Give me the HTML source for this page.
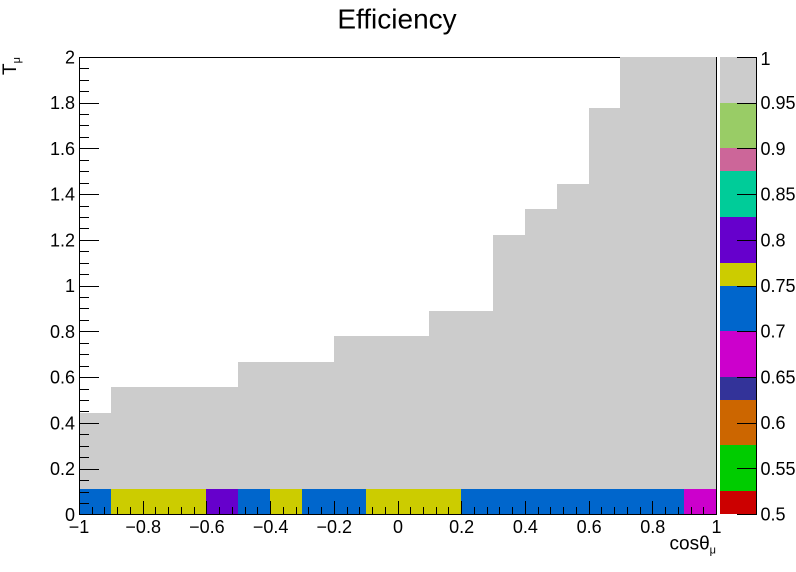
<!DOCTYPE html>
<html lang="en">
<head>
<meta charset="utf-8">
<title>Efficiency</title>
<style>
html,body{margin:0;padding:0;background:#fff;}
svg{display:block;font-family:"Liberation Sans",sans-serif;}
</style>
</head>
<body>
<svg id="chart" width="796" height="572" viewBox="0 0 796 572" xmlns="http://www.w3.org/2000/svg">
<text x="397" y="28.5" font-size="28" text-anchor="middle" fill="#000">Efficiency</text>
<g id="cells" shape-rendering="crispEdges"></g>
<g id="palette" shape-rendering="crispEdges"></g>
<g id="axes"></g>
<text x="716" y="549.5" font-size="19" text-anchor="end" fill="#000">cosθ<tspan font-size="11" dy="4">μ</tspan></text>
<text transform="translate(16,57) rotate(-90)" font-size="19" text-anchor="end" fill="#000">T<tspan font-size="11" dy="4">μ</tspan></text>
</svg>
<script>
// Efficiency in the lowest T-mu bin, one value per cos-theta bin
const bottomRowValues = [0.72, 0.76, 0.76, 0.76, 0.81, 0.72, 0.76, 0.72, 0.72, 0.76, 0.76, 0.76, 0.72, 0.72, 0.72, 0.72, 0.72, 0.72, 0.72, 0.68];
// Number of filled T-mu bins per cos-theta bin
const filledBinCounts = [4, 5, 5, 5, 5, 6, 6, 6, 7, 7, 7, 8, 8, 11, 12, 13, 16, 18, 18, 18];
// Efficiency of all bins above the lowest one
const upperBinValue = 1.0;
const xTickLabels = ['\u22121', '\u22120.8', '\u22120.6', '\u22120.4', '\u22120.2', '0', '0.2', '0.4', '0.6', '0.8', '1'];
const xTickValues = [-1, -0.8, -0.6, -0.4, -0.2, 0, 0.2, 0.4, 0.6, 0.8, 1];
const yTickLabels = ['0', '0.2', '0.4', '0.6', '0.8', '1', '1.2', '1.4', '1.6', '1.8', '2'];
const yTickValues = [0, 0.2, 0.4, 0.6, 0.8, 1, 1.2, 1.4, 1.6, 1.8, 2];
const zTickLabels = ['0.5', '0.55', '0.6', '0.65', '0.7', '0.75', '0.8', '0.85', '0.9', '0.95', '1'];
const zTickValues = [0.5, 0.55, 0.6, 0.65, 0.7, 0.75, 0.8, 0.85, 0.9, 0.95, 1];
// Colour of each of the 20 contour levels, from 0.5 to 1
const levelColors = ['#cc0000', '#00cc00', '#00cc00', '#cc6600', '#cc6600', '#333399', '#cc00cc', '#cc00cc', '#0066cc', '#0066cc', '#cccc00', '#6600cc', '#6600cc', '#00cc99', '#00cc99', '#cc6699', '#99cc66', '#99cc66', '#cccccc', '#cccccc'];

const NS = 'http://www.w3.org/2000/svg';
const xDomain = [-1, 1], yDomain = [0, 2], zDomain = [0.5, 1];
const nx = 20, ny = 18;
const plot = { left: 79.5, right: 716.5, top: 56.8, bottom: 514.4 };
const pal = { left: 720, right: 756, top: 57, bottom: 514 };
function xScale(v) { return plot.left + (v - xDomain[0]) / (xDomain[1] - xDomain[0]) * (plot.right - plot.left); }
function yScale(v) { return plot.bottom - (v - yDomain[0]) / (yDomain[1] - yDomain[0]) * (plot.bottom - plot.top); }
function zScale(v) { return pal.bottom - (v - zDomain[0]) / (zDomain[1] - zDomain[0]) * (pal.bottom - pal.top); }
function colorFor(v) {
  const n = levelColors.length;
  let i = Math.floor((v - zDomain[0]) / (zDomain[1] - zDomain[0]) * n);
  if (i >= n) i = n - 1;
  if (i < 0) i = 0;
  return levelColors[i];
}
function make(tag, attrs, parent) {
  const el = document.createElementNS(NS, tag);
  for (const k in attrs) el.setAttribute(k, attrs[k]);
  parent.appendChild(el);
  return el;
}
function line(x1, y1, x2, y2, parent, name) {
  const el = make('line', { x1: x1, y1: y1, x2: x2, y2: y2, stroke: '#000', 'stroke-width': 1 }, parent);
  
  
  return el;
}
function label(x, y, s, anchor, parent, name) {
  const el = make('text', { x: x, y: y, 'font-size': 18, 'text-anchor': anchor, fill: '#000' }, parent);
  el.textContent = s;
  
  
  return el;
}

const cells = document.getElementById('cells');
const dx = (xDomain[1] - xDomain[0]) / nx, dy = (yDomain[1] - yDomain[0]) / ny;
filledBinCounts.forEach(function (count, c) {
  const x0 = Math.floor(xScale(xDomain[0] + c * dx));
  const x1 = Math.floor(xScale(xDomain[0] + (c + 1) * dx));
  for (let r = 0; r < count; r++) {
    const v = r === 0 ? bottomRowValues[c] : upperBinValue;
    const y0 = Math.round(yScale(yDomain[0] + r * dy));
    const y1 = Math.round(yScale(yDomain[0] + (r + 1) * dy));
    const rect = make('rect', { x: x0, y: y1, width: x1 - x0, height: y0 - y1, fill: colorFor(v) }, cells);
    
    
  }
});

const palette = document.getElementById('palette');
levelColors.forEach(function (color, i) {
  const step = (zDomain[1] - zDomain[0]) / levelColors.length;
  const y0 = Math.round(zScale(zDomain[0] + i * step));
  const y1 = Math.round(zScale(zDomain[0] + (i + 1) * step));
  const rect = make('rect', { x: pal.left, y: y1, width: pal.right - pal.left, height: y0 - y1, fill: color }, palette);
  
  
});

const axes = document.getElementById('axes');
// frame
line(79.5, 57.5, 716.5, 57.5, axes, 'plot-frame-top').setAttribute('id', 'frameTop');
line(716.5, 57, 716.5, 514.5, axes, 'plot-frame-right');
line(79.5, 57, 79.5, 514.5, axes, 'y-axis-line');
line(79, 514.5, 717, 514.5, axes, 'x-axis-line');
// the top frame is hidden behind the filled columns
document.getElementById('frameTop').setAttribute('x2', Math.floor(xScale(xDomain[0] + 17 * dx)));

// x ticks
const xMinorCount = 50;
for (let i = 0; i <= xMinorCount; i++) {
  const v = xDomain[0] + i * (xDomain[1] - xDomain[0]) / xMinorCount;
  const major = i % 5 === 0;
  const x = Math.floor(xScale(v)) + 0.5;
  line(x, 514, x, 514 - (major ? 13 : 7), axes, major ? 'x-major-tick' : 'x-minor-tick');
}
xTickValues.forEach(function (v, i) {
  label(xScale(v) - (i === 0 ? 0.5 : 0), 533, xTickLabels[i], 'middle', axes, 'x-tick-label');
});

// y ticks
const yMinorCount = 40;
for (let i = 0; i <= yMinorCount; i++) {
  const v = yDomain[0] + i * (yDomain[1] - yDomain[0]) / yMinorCount;
  const major = i % 4 === 0;
  const y = Math.round(yScale(v)) + 0.5;
  line(79, y, 79 + (major ? 20 : 10), y, axes, major ? 'y-major-tick' : 'y-minor-tick');
}
yTickValues.forEach(function (v, i) {
  label(75, yScale(v) + 6.5, yTickLabels[i], 'end', axes, 'y-tick-label');
});

// palette axis
line(pal.right + 0.5, 57, pal.right + 0.5, 514.5, axes, 'palette-axis-line');
zTickValues.forEach(function (v, i) {
  const y = Math.round(zScale(v)) + 0.5;
  line(737, y, pal.right + 1, y, axes, 'palette-tick');
  label(760.5, zScale(v) + (i === zTickValues.length - 1 ? 8 : 6.5), zTickLabels[i], 'start', axes, 'palette-tick-label');
});
</script>
</body>
</html>
